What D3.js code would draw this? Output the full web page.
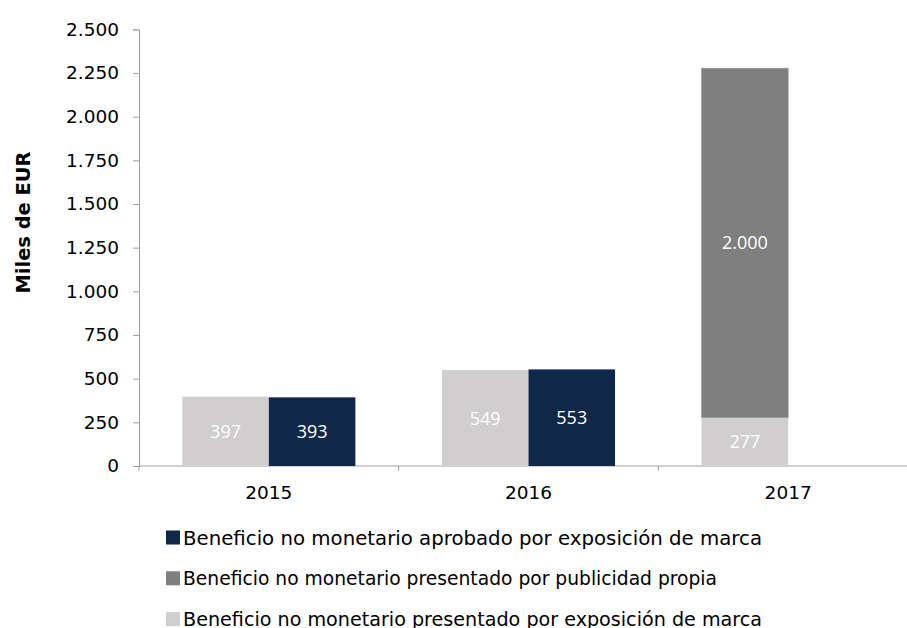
<!DOCTYPE html>
<html><head><meta charset="utf-8">
<script src="https://cdn.jsdelivr.net/npm/d3@7"></script>
<style>body{margin:0;background:#fff}svg{display:block}</style>
</head><body>
<svg id="c" width="907" height="628"></svg>
<script>
const years = ["2015","2016","2017"];
const presentadoExposicion = [397, 549, 277];
const presentadoPublicidad = [0, 0, 2000];
const aprobadoExposicion = [393, 553, 0];
const yTicks = [0,250,500,750,1000,1250,1500,1750,2000,2250,2500];
const legendLabels = [
  "Beneficio no monetario aprobado por exposición de marca",
  "Beneficio no monetario presentado por publicidad propia",
  "Beneficio no monetario presentado por exposición de marca"
];
const colors = {light:"#D0CECF", dark:"#7F7F7F", navy:"#0F2748"};

const loc = d3.formatLocale({decimal:",", thousands:".", grouping:[3], currency:["","€"]});
const fmt = loc.format(",d");

const svg = d3.select("#c");
const x0 = d3.scaleBand().domain(years).range([139, 918]).paddingInner(0).paddingOuter(0);
const x1 = d3.scaleBand().domain(["left","right"]).range([0, x0.bandwidth()]).paddingInner(0).paddingOuter(0.5);
const y = d3.scaleLinear().domain([0,2500]).range([466, 29.3]);

// y axis
const yAxis = d3.axisLeft(y).tickValues(yTicks).tickSize(6).tickPadding(14).tickFormat(fmt);
const gy = svg.append("g").attr("transform","translate(139,0)").call(yAxis);
gy.select(".domain").attr("stroke","#A0A0A0");
gy.selectAll(".tick line").attr("stroke","#A0A0A0");
gy.selectAll(".tick text").attr("font-family","'DejaVu Sans', Verdana, sans-serif").attr("font-size",18.5).attr("fill","#000");

// x axis
const gx = svg.append("g").attr("transform","translate(0,466)");
gx.append("line").attr("x1",139).attr("x2",918).attr("y1",0).attr("y2",0).attr("stroke","#A0A0A0");
const bounds = years.map(d=>x0(d)).concat([x0(years[2])+x0.bandwidth()]);
gx.selectAll("line.tk").data(bounds).join("line").attr("class","tk")
  .attr("x1",d=>d).attr("x2",d=>d).attr("y1",0).attr("y2",5).attr("stroke","#A0A0A0");
gx.selectAll("text").data(years).join("text")
  .attr("x",d=>x0(d)+x0.bandwidth()/2).attr("y",33)
  .attr("text-anchor","middle").attr("font-family","'DejaVu Sans', Verdana, sans-serif")
  .attr("font-size",18.5).attr("fill","#000").text(d=>d);

// stacked left slot
const stackData = years.map((yr,i)=>({year:yr, light:presentadoExposicion[i], dark:presentadoPublicidad[i]}));
const stacked = d3.stack().keys(["light","dark"])(stackData);
const bars = svg.append("g");
stacked.forEach(layer=>{
  bars.selectAll(null).data(layer.filter(d=>d[1]-d[0]>0)).join("rect")
    .attr("x",d=>x0(d.data.year)+x1("left"))
    .attr("width",x1.bandwidth())
    .attr("y",d=>y(d[1]))
    .attr("height",d=>y(d[0])-y(d[1]))
    .attr("fill",colors[layer.key])
    .attr("stroke", layer.key==="dark" ? "#9A9A9A" : "none").attr("stroke-width",0.8);
  bars.selectAll(null).data(layer.filter(d=>d[1]-d[0]>0)).join("text")
    .attr("x",d=>x0(d.data.year)+x1("left")+x1.bandwidth()/2)
    .attr("y",d=>(y(d[0])+y(d[1]))/2)
    .attr("dy","0.36em").attr("text-anchor","middle")
    .attr("font-family","'Open Sans', sans-serif").attr("font-size",18)
    .attr("fill","#fff").text(d=>fmt(d[1]-d[0]));
});
const navyData = years.map((yr,i)=>({year:yr, v:aprobadoExposicion[i]})).filter(d=>d.v>0);
bars.selectAll(null).data(navyData).join("rect")
  .attr("x",d=>x0(d.year)+x1("right")).attr("width",x1.bandwidth())
  .attr("y",d=>y(d.v)).attr("height",d=>y(0)-y(d.v)).attr("fill",colors.navy);
bars.selectAll(null).data(navyData).join("text")
  .attr("x",d=>x0(d.year)+x1("right")+x1.bandwidth()/2)
  .attr("y",d=>(y(0)+y(d.v))/2).attr("dy","0.36em").attr("text-anchor","middle")
  .attr("font-family","'Open Sans', sans-serif").attr("font-size",18)
  .attr("fill","#fff").text(d=>fmt(d.v));

// y title
svg.append("text").attr("transform","translate(29.5,222.5) rotate(-90)")
  .attr("text-anchor","middle").attr("font-family","'DejaVu Sans', Verdana, sans-serif")
  .attr("font-weight","bold").attr("font-size",19).attr("fill","#000")
  .attr("textLength",142).attr("lengthAdjust","spacingAndGlyphs").text("Miles de EUR");

// legend
const legColors = [colors.navy, colors.dark, colors.light];
const legWidths = [579, 534, 579];
const lg = svg.append("g");
legendLabels.forEach((t,i)=>{
  const cy = 537.5 + i*40.8;
  lg.append("rect").attr("x",166).attr("y",cy-7).attr("width",14).attr("height",14).attr("fill",legColors[i]);
  lg.append("text").attr("x",183).attr("y",cy).attr("dy","0.36em")
    .attr("font-family","'DejaVu Sans', Verdana, sans-serif").attr("font-size",19.5).attr("fill","#000")
    .attr("textLength",legWidths[i]).attr("lengthAdjust","spacingAndGlyphs").text(t);
});
</script>
</body></html>
